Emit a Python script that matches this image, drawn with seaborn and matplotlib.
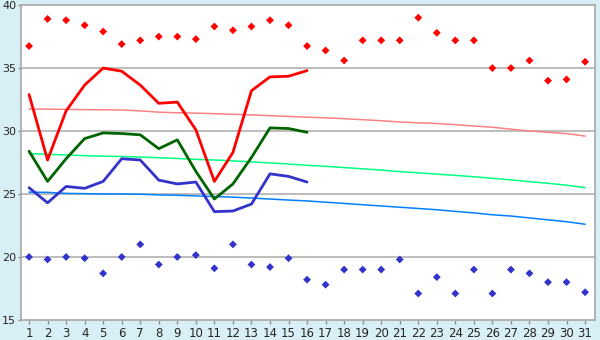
import numpy as np
import pandas as pd
import matplotlib
matplotlib.use('agg')
import matplotlib.pyplot as plt
import seaborn as sns

days = list(range(1, 32))

# daily extremes (diamond points)
max_pts = [36.75, 38.9, 38.8, 38.4, 37.9, 36.9, 37.2, 37.5, 37.5, 37.3,
           38.3, 38.0, 38.3, 38.8, 38.4, 36.75, 36.4, 35.6, 37.2, 37.2,
           37.2, 39.0, 37.8, 37.2, 37.2, 35.0, 35.0, 35.6, 34.0, 34.1, 35.5]
min_pts = [20.0, 19.8, 20.0, 19.9, 18.7, 20.0, 21.0, 19.4, 20.0, 20.15,
           19.1, 21.0, 19.4, 19.2, 19.9, 18.2, 17.8, 19.0, 19.0, 19.0,
           19.8, 17.1, 18.4, 17.1, 19.0, 17.1, 19.0, 18.7, 18.0, 18.0, 17.2]

# current month, days 1-16 (thick lines)
cur_days = list(range(1, 17))
cur_max = [32.9, 27.7, 31.6, 33.65, 35.0, 34.75, 33.65, 32.2, 32.3, 30.1,
           26.0, 28.3, 33.2, 34.3, 34.35, 34.8]
cur_avg = [28.4, 26.0, 27.8, 29.4, 29.85, 29.8, 29.7, 28.6, 29.3, 26.8,
           24.6, 25.8, 27.9, 30.25, 30.2, 29.9]
cur_min = [25.5, 24.3, 25.6, 25.45, 26.0, 27.8, 27.7, 26.1, 25.8, 25.95,
           23.6, 23.65, 24.2, 26.6, 26.4, 25.95]

# long-term normals (thin lines)
norm_max = [31.75, 31.74, 31.72, 31.7, 31.69, 31.67, 31.6, 31.5, 31.45, 31.42,
            31.38, 31.33, 31.28, 31.22, 31.16, 31.1, 31.05, 30.98, 30.9, 30.82,
            30.72, 30.65, 30.6, 30.5, 30.4, 30.3, 30.15, 30.0, 29.9, 29.8, 29.6]
norm_avg = [28.2, 28.15, 28.1, 28.05, 28.0, 27.98, 27.93, 27.88, 27.82, 27.75,
            27.7, 27.63, 27.55, 27.47, 27.38, 27.28, 27.2, 27.1, 27.0, 26.9,
            26.78, 26.68, 26.58, 26.48, 26.37, 26.25, 26.12, 25.98, 25.85, 25.7, 25.5]
norm_min = [25.15, 25.13, 25.05, 25.03, 25.0, 25.0, 24.98, 24.93, 24.9, 24.85,
            24.8, 24.75, 24.68, 24.6, 24.52, 24.45, 24.35, 24.25, 24.15, 24.05,
            23.95, 23.85, 23.75, 23.62, 23.5, 23.35, 23.25, 23.1, 22.95, 22.8, 22.6]

norm_df = pd.DataFrame({"day": days, "max": norm_max, "avg": norm_avg, "min": norm_min})
cur_df = pd.DataFrame({"day": cur_days, "max": cur_max, "avg": cur_avg, "min": cur_min})
pts_df = pd.DataFrame({"day": days, "max": max_pts, "min": min_pts})

sns.set_style("white")
plt.rcParams['font.family'] = ['DejaVu Sans']

fig = plt.figure(figsize=(6, 3.4), dpi=100, facecolor='#d9eff6')
ax = fig.add_axes([0.0345, 0.059, 0.957, 0.926])
ax.set_facecolor('white')

for y in [20, 25, 30, 35]:
    ax.axhline(y, color='#b0b0b0', lw=1.2, zorder=0)

sns.lineplot(data=norm_df, x="day", y="max", color='#ff8080', lw=1.1, ax=ax)
sns.lineplot(data=norm_df, x="day", y="avg", color='#00ff80', lw=1.1, ax=ax)
sns.lineplot(data=norm_df, x="day", y="min", color='#0080ff', lw=1.1, ax=ax)

sns.lineplot(data=cur_df, x="day", y="max", color='#ff0000', lw=2.0, ax=ax)
sns.lineplot(data=cur_df, x="day", y="avg", color='#006400', lw=2.0, ax=ax)
sns.lineplot(data=cur_df, x="day", y="min", color='#3333cc', lw=2.0, ax=ax)

sns.scatterplot(data=pts_df, x="day", y="max", color='#ff0000', marker='D', s=16,
                edgecolor='none', ax=ax)
sns.scatterplot(data=pts_df, x="day", y="min", color='#3333cc', marker='D', s=16,
                edgecolor='none', ax=ax)

ax.set_xlim(0.55, 31.53)
ax.set_ylim(15, 40)
ax.set_xticks(days)
ax.set_yticks([15, 20, 25, 30, 35, 40])
ax.set_xlabel("")
ax.set_ylabel("")
ax.tick_params(axis='x', length=3, width=1, color='#909090', labelsize=8.5,
               direction='out', pad=2, bottom=True)
ax.tick_params(axis='y', length=2.2, width=1, color='#909090', labelsize=8,
               direction='out', pad=1, left=True)
for sp in ax.spines.values():
    sp.set_color('#a8a8a8')
    sp.set_linewidth(1.2)

fig.savefig("out.png", dpi=100, facecolor=fig.get_facecolor())
